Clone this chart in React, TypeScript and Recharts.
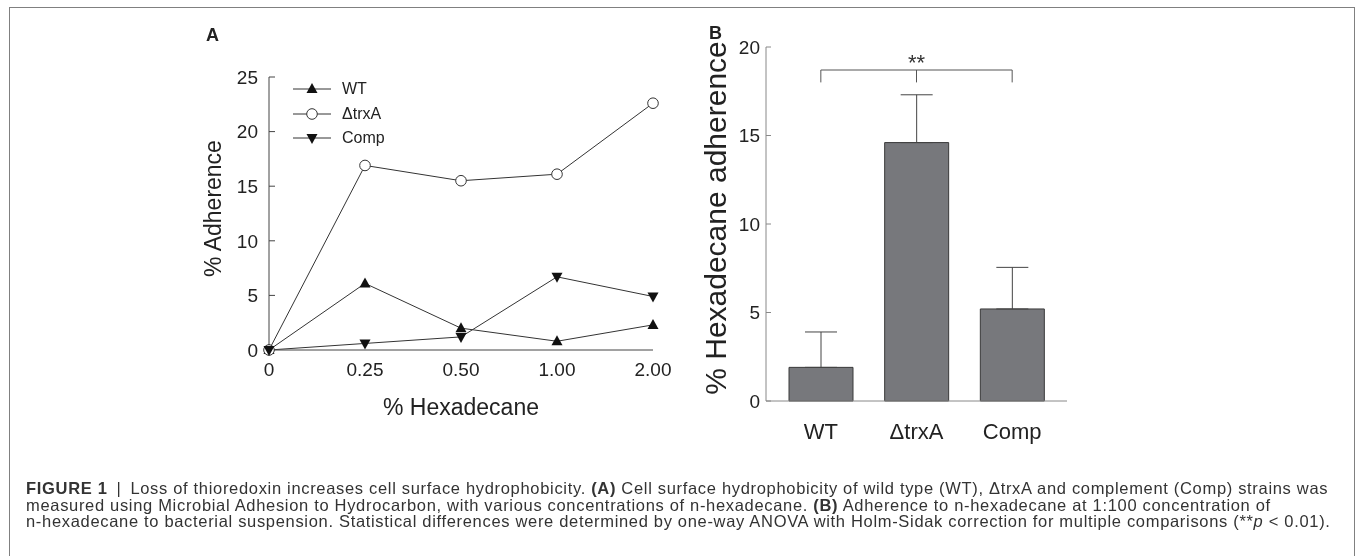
import React from 'react';
import { LineChart, Line, BarChart, Bar, XAxis, YAxis, Legend, ErrorBar, ReferenceLine, Label } from 'recharts';

// panel A: % adherence against % hexadecane
const concentrations = ['0', '0.25', '0.50', '1.00', '2.00'];
const wtAdherence = [0, 6.1, 2.0, 0.8, 2.3];
const trxAAdherence = [0, 16.9, 15.5, 16.1, 22.6];
const compAdherence = [0, 0.6, 1.2, 6.7, 4.9];
const adherenceTicks = [0, 5, 10, 15, 20, 25];

// panel B: adherence at 1:100
const strains = ['WT', 'ΔtrxA', 'Comp'];
const strainMeans = [1.9, 14.6, 5.2];
const strainErrors = [2.0, 2.7, 2.35];
const hexadecaneTicks = [0, 5, 10, 15, 20];
const bracketLevel = 18.7;
const bracketFoot = 18.0;

const lineData = concentrations.map((conc, i) => ({
  conc,
  wt: wtAdherence[i],
  trxA: trxAAdherence[i],
  comp: compAdherence[i],
}));

const barData = strains.map((strain, i) => ({
  strain,
  mean: strainMeans[i],
  err: [0, strainErrors[i]],
}));

const FONT = '"Liberation Sans", Arial, Helvetica, sans-serif';
const seriesOrder = ['wt', 'trxA', 'comp'];
const shapes: Record<string, string> = { wt: 'up', trxA: 'circle', comp: 'down' };

const Marker = ({ shape, cx, cy }: { shape: string; cx: number; cy: number }) => {
  if (shape === 'up')
    return <path d={`M${cx},${cy - 6}L${cx + 5.5},${cy + 4}L${cx - 5.5},${cy + 4}Z`} fill="#111" />;
  if (shape === 'down')
    return <path d={`M${cx},${cy + 6}L${cx + 5.5},${cy - 4}L${cx - 5.5},${cy - 4}Z`} fill="#111" />;
  return <circle cx={cx} cy={cy} r={5.3} fill="#fff" stroke="#333" strokeWidth={1} />;
};

const dotFor = (key: string) => (p: any) => (
  <Marker key={`${key}-${p.index}`} shape={shapes[key]} cx={p.cx} cy={p.cy} />
);

const LineLegend = ({ payload }: any) => {
  const items = [...(payload || [])].sort(
    (a: any, b: any) => seriesOrder.indexOf(a.dataKey) - seriesOrder.indexOf(b.dataKey)
  );
  return (
    <div style={{ fontFamily: FONT, fontSize: 16, color: '#222' }}>
      {items.map((entry: any) => (
        <div key={entry.value} style={{ display: 'flex', alignItems: 'center', height: 24.5 }}>
          <svg width={38} height={14}>
            <line x1={0} y1={7} x2={38} y2={7} stroke="#333" strokeWidth={1} />
            <Marker shape={shapes[entry.dataKey]} cx={19} cy={7} />
          </svg>
          <span style={{ marginLeft: 11 }}>{entry.value}</span>
        </div>
      ))}
    </div>
  );
};

const sideLabel = (text: string, size: number, dx: number, dy: number) => (props: any) => {
  const vb = props.viewBox;
  const x = vb.x + dx;
  const y = vb.y + vb.height / 2 + dy;
  return (
    <text x={x} y={y} transform={`rotate(-90 ${x} ${y})`} textAnchor="middle" dominantBaseline="central"
      fontSize={size} fill="#222" fontFamily={FONT}>
      {text}
    </text>
  );
};

const bottomLabel = (text: string, size: number, dy: number) => (props: any) => {
  const vb = props.viewBox;
  return (
    <text x={vb.x + vb.width / 2} y={vb.y + dy} textAnchor="middle" dominantBaseline="central"
      fontSize={size} fill="#222" fontFamily={FONT}>
      {text}
    </text>
  );
};

const AdherenceChart = () => (
  <LineChart width={500} height={410} data={lineData} margin={{ top: 57, right: 27, bottom: 10, left: 19 }}>
    <XAxis dataKey="conc" tickLine={false} tickSize={0} tickMargin={13} height={70}
      stroke="#444" tick={{ fontSize: 19, fill: '#222', fontFamily: FONT }}>
      <Label content={bottomLabel('% Hexadecane', 23, 57)} />
    </XAxis>
    <YAxis domain={[0, 25]} ticks={adherenceTicks} width={70} tickSize={-6} tickMargin={17}
      stroke="#444" tick={{ fontSize: 19, fill: '#222', fontFamily: FONT }}>
      <Label content={sideLabel('% Adherence', 23, 14, -5)} />
    </YAxis>
    <Legend layout="vertical" align="center" verticalAlign="middle"
      wrapperStyle={{ left: 113, top: 57, width: 'auto' }} content={(p: any) => <LineLegend payload={p.payload} />} />
    <Line dataKey="wt" name="WT" stroke="#333" strokeWidth={1} dot={dotFor('wt')} isAnimationActive={false} />
    <Line dataKey="trxA" name="ΔtrxA" stroke="#333" strokeWidth={1} dot={dotFor('trxA')} isAnimationActive={false} />
    <Line dataKey="comp" name="Comp" stroke="#333" strokeWidth={1} dot={dotFor('comp')} isAnimationActive={false} />
  </LineChart>
);

const StrainChart = () => (
  <BarChart width={400} height={430} data={barData} margin={{ top: 27, right: 33, bottom: 9, left: 0 }}>
    <XAxis dataKey="strain" tickLine={false} tickSize={0} tickMargin={22} height={40} padding={{ left: 7, right: 7 }}
      stroke="#888" tick={{ fontSize: 22, fill: '#222', fontFamily: FONT }} />
    <YAxis domain={[0, 20]} ticks={hexadecaneTicks} width={66} tickSize={-5} tickMargin={11}
      stroke="#888" tick={{ fontSize: 19, fill: '#222', fontFamily: FONT }}>
      <Label content={sideLabel('% Hexadecane adherence', 30, 15, -6)} />
    </YAxis>
    <Bar dataKey="mean" fill="#77787c" stroke="#3a3a3a" strokeWidth={1} barSize={64} isAnimationActive={false}>
      <ErrorBar dataKey="err" direction="y" width={16} stroke="#444" strokeWidth={1} isAnimationActive={false} />
    </Bar>
    <ReferenceLine segment={[{ x: 'WT', y: bracketLevel }, { x: 'Comp', y: bracketLevel }]} stroke="#555"
      label={{ value: '**', position: 'top', offset: 0, fontSize: 22, fill: '#333', fontFamily: FONT }} />
    <ReferenceLine segment={[{ x: 'WT', y: bracketLevel }, { x: 'WT', y: bracketFoot }]} stroke="#555" />
    <ReferenceLine segment={[{ x: 'ΔtrxA', y: bracketLevel }, { x: 'ΔtrxA', y: bracketFoot }]} stroke="#555" />
    <ReferenceLine segment={[{ x: 'Comp', y: bracketLevel }, { x: 'Comp', y: bracketFoot }]} stroke="#555" />
  </BarChart>
);

const captionLine: React.CSSProperties = {
  position: 'absolute',
  left: 18,
  whiteSpace: 'nowrap',
  fontSize: 16.5,
  lineHeight: '16.5px',
  letterSpacing: 0.68,
  color: '#333',
};

export default function App() {
  return (
    <div style={{ position: 'relative', width: 1341, height: 540, fontFamily: FONT, color: '#222' }}>
      <style>{'html{overflow:hidden}'}</style>
      <div style={{
        position: 'fixed', left: 9, top: 7, width: 1346, height: 549, boxSizing: 'border-box',
        border: '1px solid #808080', borderBottom: 'none', pointerEvents: 'none',
      }} />
      <div style={{ position: 'absolute', left: 198, top: 17, fontSize: 18, fontWeight: 'bold', lineHeight: '20px' }}>A</div>
      <div style={{ position: 'absolute', left: 701, top: 15, fontSize: 18, fontWeight: 'bold', lineHeight: '20px' }}>B</div>
      <div style={{ position: 'absolute', left: 172, top: 12 }}>
        <AdherenceChart />
      </div>
      <div style={{ position: 'absolute', left: 692, top: 12 }}>
        <StrainChart />
      </div>
      <div style={{ ...captionLine, top: 472 }}>
        <b>FIGURE 1</b>{'\u2002|\u2002'}Loss of thioredoxin increases cell surface hydrophobicity. <b>(A)</b> Cell surface hydrophobicity of wild type (WT), ΔtrxA and complement (Comp) strains was
      </div>
      <div style={{ ...captionLine, top: 488.5 }}>
        measured using Microbial Adhesion to Hydrocarbon, with various concentrations of n-hexadecane. <b>(B)</b> Adherence to n-hexadecane at 1:100 concentration of
      </div>
      <div style={{ ...captionLine, top: 505 }}>
        n-hexadecane to bacterial suspension. Statistical differences were determined by one-way ANOVA with Holm-Sidak correction for multiple comparisons (**<i>p</i> &lt; 0.01).
      </div>
    </div>
  );
}
